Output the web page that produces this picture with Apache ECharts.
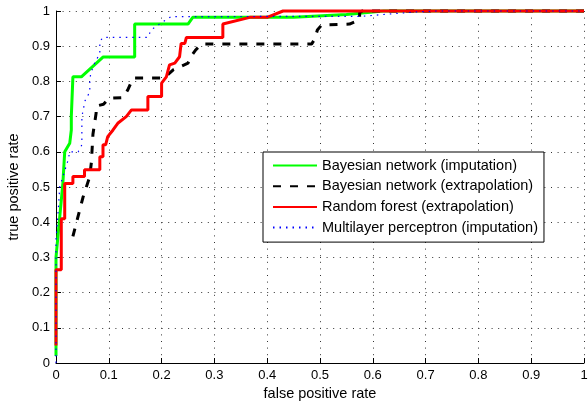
<!DOCTYPE html>
<html>
<head>
<meta charset="utf-8">
<title>ROC curves</title>
<script src="https://cdn.jsdelivr.net/npm/echarts@6/dist/echarts.min.js"></script>
<style>
    html, body { margin: 0; padding: 0; background: #fff; }
    #chart { width: 588px; height: 401px; }
</style>
</head>
<body>
<div id="chart"></div>
<script>
// 数据: [false positive rate, true positive rate]
var seriesNames = [
    "Bayesian network (imputation)",
    "Bayesian network (extrapolation)",
    "Random forest (extrapolation)",
    "Multilayer perceptron (imputation)"
];

var bnImputation = [
    [0, 0.02], [0, 0.3], [0.013, 0.51], [0.0165, 0.6], [0.026, 0.624], [0.029, 0.662],
    [0.029, 0.7], [0.032, 0.813], [0.048, 0.813], [0.089, 0.869], [0.149, 0.869],
    [0.149, 0.963], [0.25, 0.963], [0.259, 0.982], [0.45, 0.982], [0.55, 0.99],
    [0.62, 1], [1, 1]
];

var bnExtrapolation = [
    [0.032, 0.36], [0.051, 0.47], [0.064, 0.53], [0.067, 0.57], [0.07, 0.65],
    [0.076, 0.71], [0.076, 0.73], [0.09, 0.735], [0.1, 0.752], [0.127, 0.754],
    [0.136, 0.776], [0.146, 0.81], [0.205, 0.81], [0.222, 0.833], [0.25, 0.852],
    [0.255, 0.87], [0.265, 0.89], [0.275, 0.906], [0.484, 0.906], [0.49, 0.92],
    [0.495, 0.946], [0.503, 0.96], [0.556, 0.963], [0.575, 0.975], [0.575, 0.995],
    [0.58, 1], [1, 1]
];

var rfExtrapolation = [
    [0, 0.05], [0, 0.265], [0.01, 0.265], [0.01, 0.41], [0.0165, 0.41], [0.0165, 0.51],
    [0.032, 0.51], [0.032, 0.53], [0.054, 0.53], [0.054, 0.549], [0.083, 0.549],
    [0.083, 0.586], [0.089, 0.586], [0.089, 0.62], [0.094, 0.62], [0.098, 0.643],
    [0.108, 0.662], [0.117, 0.681], [0.133, 0.7], [0.143, 0.719], [0.174, 0.719],
    [0.174, 0.757], [0.2, 0.757], [0.2, 0.795], [0.209, 0.813], [0.215, 0.847],
    [0.225, 0.852], [0.234, 0.87], [0.237, 0.908], [0.244, 0.908], [0.247, 0.925],
    [0.316, 0.925], [0.316, 0.963], [0.367, 0.982], [0.4, 0.982], [0.43, 1], [1, 1]
];

var mlpImputation = [
    [0, 0], [0, 0.35], [0.005, 0.45], [0.007, 0.5], [0.023, 0.577], [0.026, 0.6],
    [0.042, 0.6], [0.049, 0.62], [0.049, 0.7], [0.055, 0.745], [0.064, 0.77],
    [0.064, 0.81], [0.07, 0.842], [0.083, 0.88], [0.083, 0.913], [0.089, 0.925],
    [0.174, 0.925], [0.18, 0.946], [0.196, 0.963], [0.218, 0.984], [0.58, 0.985],
    [0.62, 0.99], [0.68, 0.997], [0.72, 1], [1, 1]
];

(function () {
    var myCharts = echarts.init(document.getElementById("chart"), null, { renderer: "canvas" });

    var font = "Liberation Sans, Arial, Helvetica, sans-serif";

    // 坐标轴公共样式
    function axis(name, nameGap, rotate) {
        return {
            type: "value",
            min: 0,
            max: 1,
            interval: 0.1,
            name: name,
            nameLocation: "middle",
            nameGap: nameGap,
            nameRotate: rotate,
            nameTextStyle: { color: "#000", fontSize: 14.5, fontFamily: font },
            axisLine: { show: true, onZero: false, lineStyle: { color: "#000", width: 1 } },
            axisTick: { show: true, inside: true, length: 5, lineStyle: { color: "#000" } },
            axisLabel: { color: "#000", fontSize: 13, fontFamily: font, margin: 6 },
            splitLine: {
                show: true,
                lineStyle: { color: "#333", width: 1, type: [1, 5.6] }
            }
        };
    }

    function line(name, data, color, width, type) {
        return {
            name: name,
            type: "line",
            data: data,
            symbol: "none",
            clip: false,
            animation: false,
            lineStyle: { color: color, width: width, type: type },
            itemStyle: { color: color }
        };
    }

    var option = {
        backgroundColor: "#fff",
        animation: false,
        grid: {
            left: 56,
            right: 4,
            top: 11,
            bottom: 38,
            outerBoundsMode: "none"
        },
        xAxis: axis("false positive rate", 21, 0),
        yAxis: axis("true positive rate", 30, 90),
        legend: {
            orient: "vertical",
            left: 263,
            top: 152,
            padding: [6, 6, 7, 9],
            itemWidth: 44,
            itemHeight: 14,
            itemGap: 5.7,
            backgroundColor: "#fff",
            borderColor: "#000",
            borderWidth: 1,
            borderRadius: 0,
            // 隐藏图例里的圆点, 只留线
            itemStyle: { opacity: 0 },
            textStyle: { color: "#000", fontSize: 14.5, fontFamily: font },
            data: seriesNames
        },
        series: [
            line(seriesNames[0], bnImputation, "#00ff00", 3, "solid"),
            line(seriesNames[1], bnExtrapolation, "#000000", 3, [8, 9]),
            line(seriesNames[2], rfExtrapolation, "#ff0000", 3, "solid"),
            line(seriesNames[3], mlpImputation, "#0000ff", 1.2, [1.5, 5])
        ]
    };

    myCharts.setOption(option);
})();
</script>
</body>
</html>
